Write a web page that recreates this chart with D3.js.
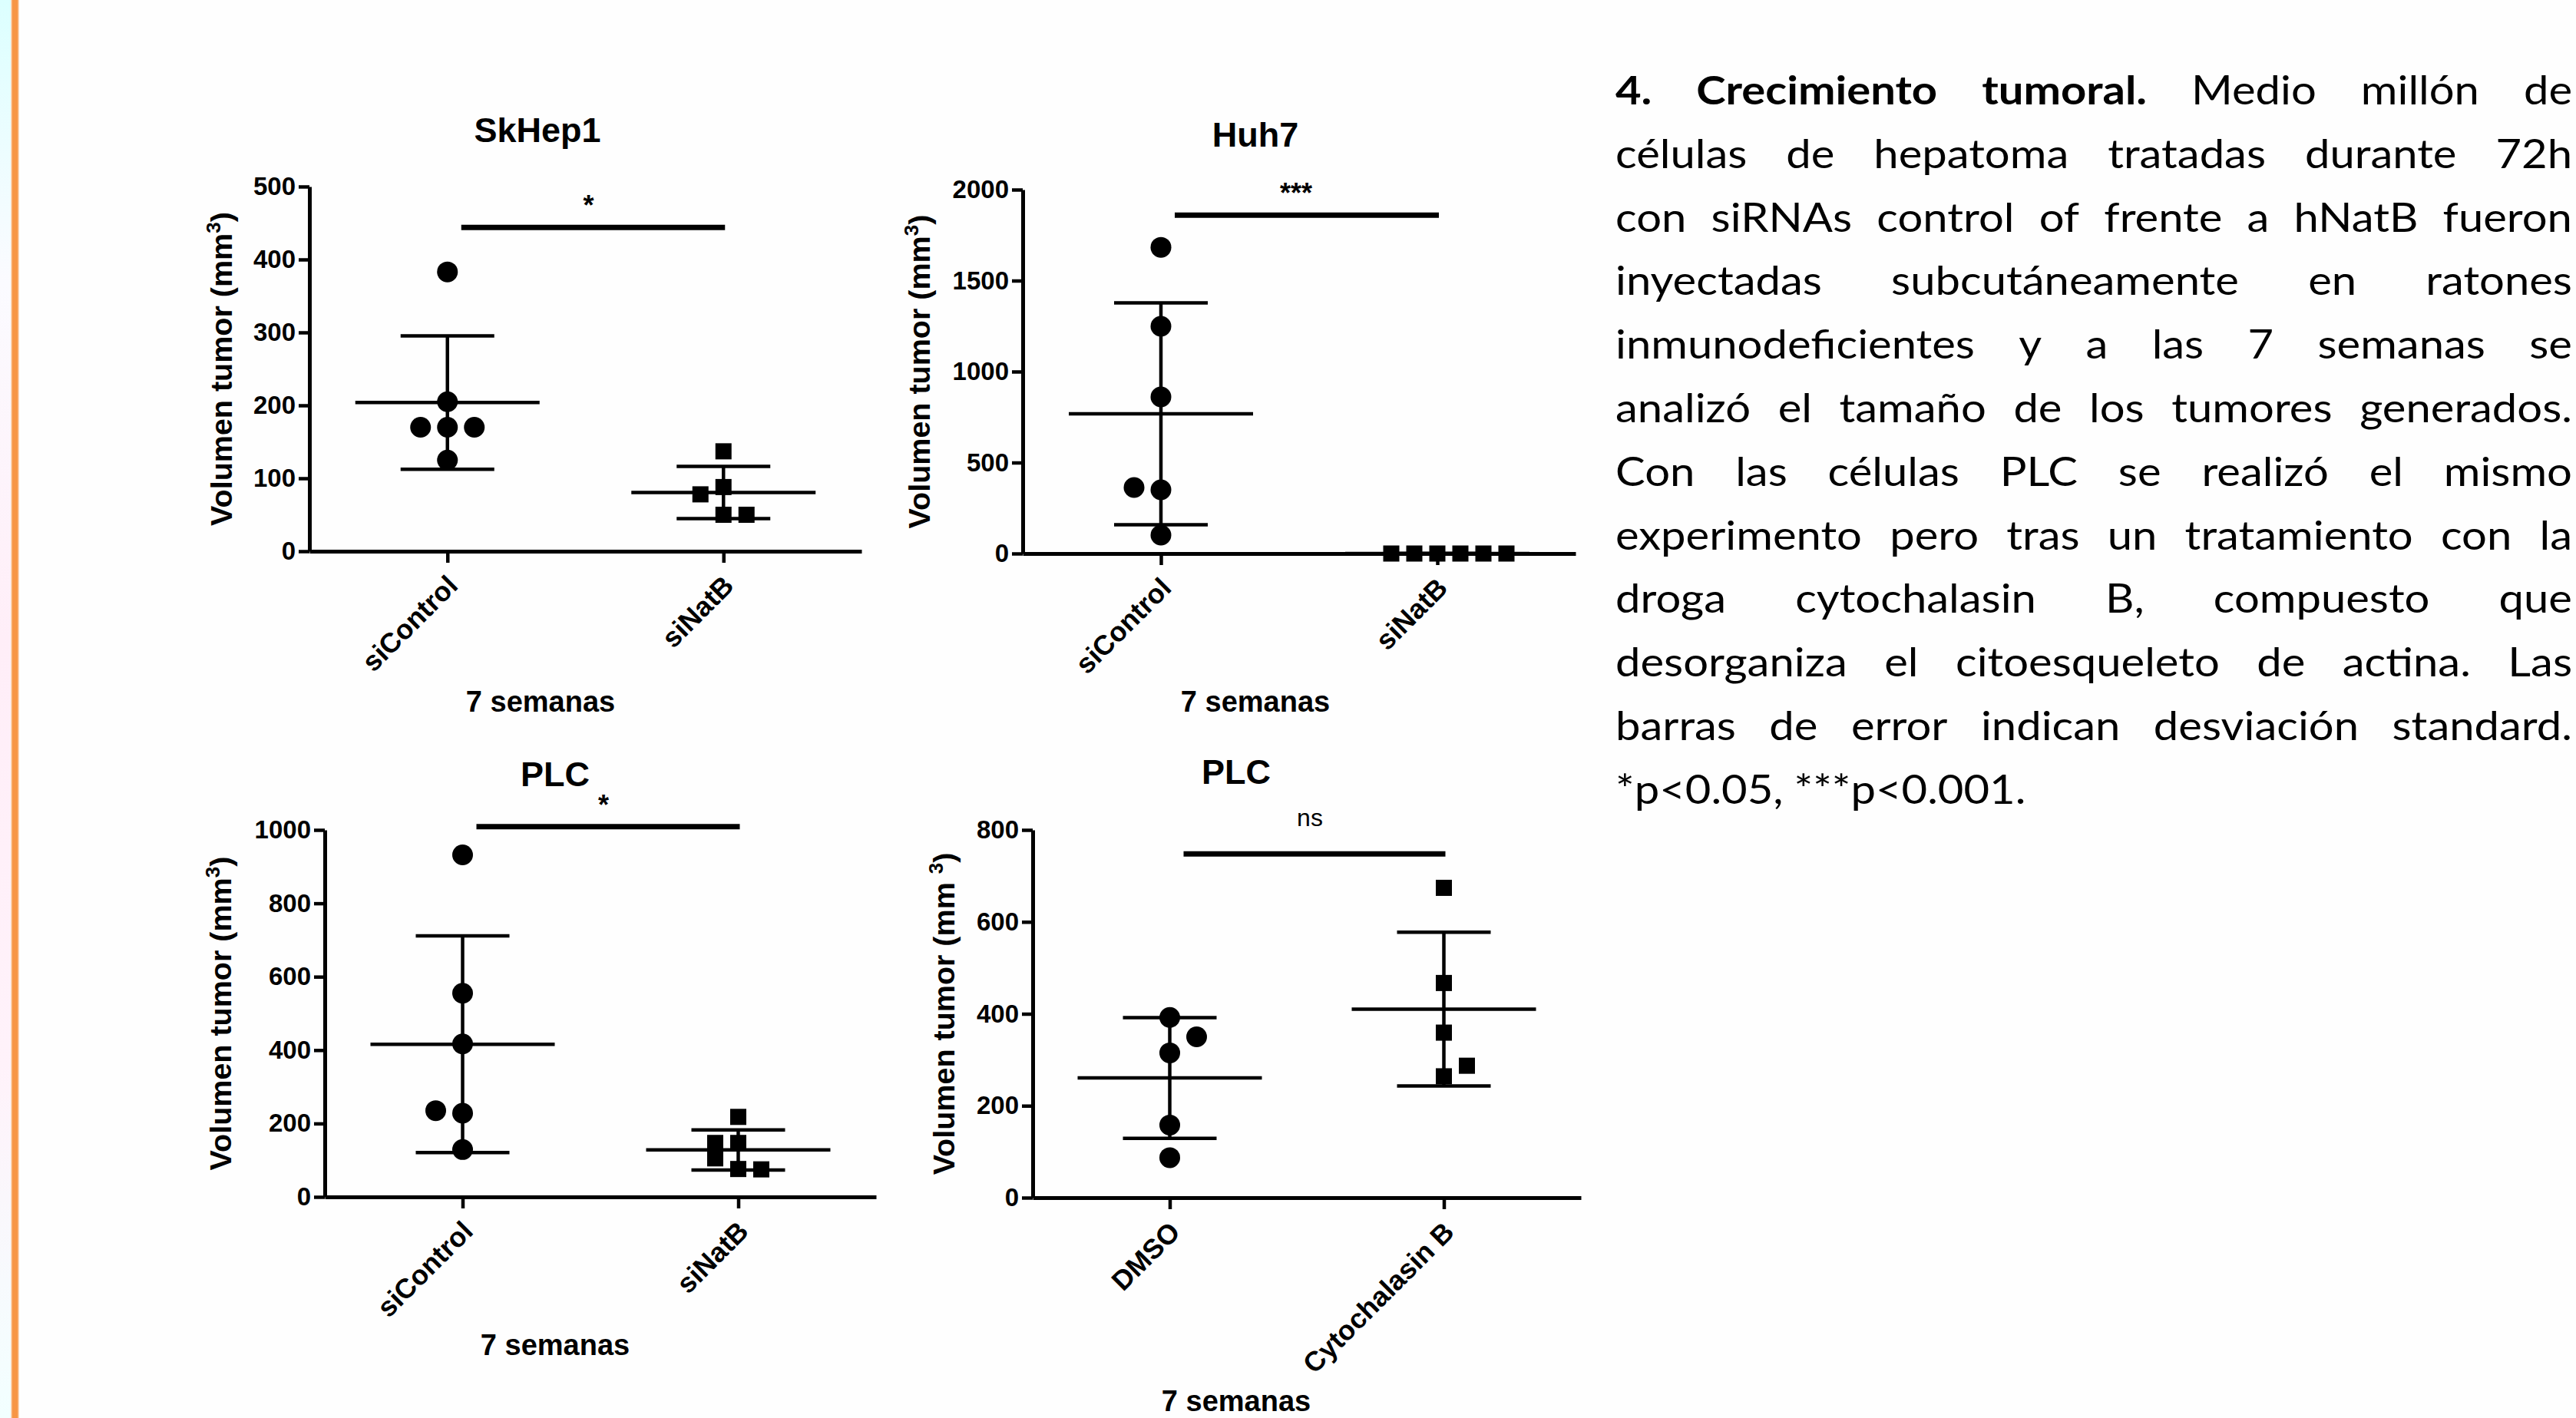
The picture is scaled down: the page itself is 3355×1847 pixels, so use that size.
<!DOCTYPE html>
<html>
<head>
<meta charset="utf-8">
<script src="https://cdn.jsdelivr.net/npm/d3@7"></script>
<style>
  body { margin: 0; background: #fff; }
  svg { display: block; }
</style>
</head>
<body>
<script>

// ---- data ----
var panelTitles = ["SkHep1", "Huh7", "PLC", "PLC"];
var groupNames = [["siControl", "siNatB"], ["siControl", "siNatB"], ["siControl", "siNatB"], ["DMSO", "Cytochalasin B"]];
var yMax = [500, 2000, 1000, 800];
var yTicks = [[0, 100, 200, 300, 400, 500], [0, 500, 1000, 1500, 2000], [0, 200, 400, 600, 800, 1000], [0, 200, 400, 600, 800]];
var sigText = ["*", "***", "*", "ns"];
var sigLevel = [444, 1860, 1009, 748];

var skhepControl = [383, 205, 170, 170, 170, 125];
var skhepNatB = [137, 88, 78, 50, 50];
var huhControl = [1683, 1249, 861, 363, 350, 101];
var huhNatB = [0, 0, 0, 0, 0, 0];
var plcControl = [932, 555, 417, 235, 228, 129];
var plcNatB = [218, 147, 147, 105, 76, 75];
var plcDmso = [392, 350, 315, 158, 87];
var plcCytoB = [674, 467, 359, 287, 264];

// side-by-side slot of each point (GraphPad spreads overlapping points)
var skhepControlSlot = [0, 0, -1, 0, 1, 0];
var skhepNatBSlot = [0, 0, -1, 0, 1];
var huhControlSlot = [0, 0, 0, -1, 0, 0];
var huhNatBSlot = [-2, -1, 0, 1, 2, 3];
var plcControlSlot = [0, 0, 0, -1, 0, 0];
var plcNatBSlot = [0, 0, -1, -1, 0, 1];
var plcDmsoSlot = [0, 1, 0, 0, 0];
var plcCytoBSlot = [0, 0, 0, 1, 0];

var panelValues = [[skhepControl, skhepNatB], [huhControl, huhNatB], [plcControl, plcNatB], [plcDmso, plcCytoB]];
var panelSlots = [[skhepControlSlot, skhepNatBSlot], [huhControlSlot, huhNatBSlot], [plcControlSlot, plcNatBSlot], [plcDmsoSlot, plcCytoBSlot]];

var paragraphLines = [
  "4. Crecimiento tumoral. Medio millón de",
  "células de hepatoma tratadas durante 72h",
  "con siRNAs control of frente a hNatB fueron",
  "inyectadas subcutáneamente en ratones",
  "inmunodeficientes y a las 7 semanas se",
  "analizó el tamaño de los tumores generados.",
  "Con las células PLC se realizó el mismo",
  "experimento pero tras un tratamiento con la",
  "droga cytochalasin B, compuesto que",
  "desorganiza el citoesqueleto de actina. Las",
  "barras de error indican desviación standard.",
  "*p<0.05, ***p<0.001."
];
var boldLead = 3; // "4. Crecimiento tumoral."

// ---- layout ----
var W = 3355, H = 1847;
var layout = [
  {x0: 403, x1: 1122, top: 243, bottom: 718, titleX: 700, titleY: 185, labelX: 704, labelY: 927, yLabelX: 302},
  {x0: 1332, x1: 2052, top: 247, bottom: 721, titleX: 1635, titleY: 191, labelX: 1635, labelY: 927, yLabelX: 1211},
  {x0: 423, x1: 1141, top: 1081, bottom: 1559, titleX: 723, titleY: 1024, labelX: 723, labelY: 1765, yLabelX: 301},
  {x0: 1345, x1: 2059, top: 1081, bottom: 1560, titleX: 1610, titleY: 1021, labelX: 1610, labelY: 1838, yLabelX: 1243}
];
var arial = "'Liberation Sans', Arial, Helvetica, sans-serif";

var svg = d3.select("body").append("svg")
    .attr("width", W)
    .attr("height", H);

// slide background: pastel strip + orange rule on the left
var defs = svg.append("defs");
var grad = defs.append("linearGradient").attr("id", "strip").attr("x1", 0).attr("y1", 0).attr("x2", 0).attr("y2", 1);
grad.append("stop").attr("offset", "0%").attr("stop-color", "#dcffff");
grad.append("stop").attr("offset", "20%").attr("stop-color", "#fbfbff");
grad.append("stop").attr("offset", "45%").attr("stop-color", "#ffeef8");
grad.append("stop").attr("offset", "75%").attr("stop-color", "#fff2fa");
grad.append("stop").attr("offset", "100%").attr("stop-color", "#f2ffff");

svg.append("rect").attr("width", W).attr("height", H).attr("fill", "#fefefe");
svg.append("rect").attr("width", 15).attr("height", H).attr("fill", "url(#strip)");
svg.append("rect").attr("x", 14).attr("width", 11).attr("height", H).attr("fill", "#fbd9bd");
svg.append("rect").attr("x", 15.5).attr("width", 8).attr("height", H).attr("fill", "#f79646");

var circleR = 13.5, squareS = 21;
var slotStep = [35, 30];

panelTitles.forEach(function(title, p) {
  var L = layout[p];
  var g = svg.append("g");

  var x = d3.scalePoint().domain(groupNames[p]).range([L.x0, L.x1]).padding(0.5);
  var y = d3.scaleLinear().domain([0, yMax[p]]).range([L.bottom, L.top]);

  // y axis
  var yAxis = g.append("g")
      .attr("transform", "translate(" + L.x0 + ",0)")
      .call(d3.axisLeft(y).tickValues(yTicks[p]).tickFormat(d3.format("d"))
        .tickSize(14).tickSizeOuter(0).tickPadding(4));
  // x axis
  var xAxis = g.append("g")
      .attr("transform", "translate(0," + L.bottom + ")")
      .call(d3.axisBottom(x).tickSize(15).tickSizeOuter(0));

  [yAxis, xAxis].forEach(function(a) {
    a.attr("font-family", arial).attr("font-weight", "bold");
    a.selectAll(".domain").attr("stroke", "#000").attr("stroke-width", 5);
    a.selectAll(".tick line").attr("stroke", "#000").attr("stroke-width", 4.5);
    a.selectAll(".tick text").attr("fill", "#000");
  });
  yAxis.attr("font-size", 33);
  xAxis.attr("font-size", 36);
  xAxis.selectAll(".tick text")
      .attr("x", 0).attr("y", 0).attr("dy", 0)
      .attr("transform", "translate(15,47) rotate(-45)")
      .attr("text-anchor", "end");

  // titles
  g.append("text")
      .attr("x", L.titleX).attr("y", L.titleY)
      .attr("text-anchor", "middle")
      .attr("font-family", arial).attr("font-weight", "bold").attr("font-size", 45)
      .text(title);
  g.append("text")
      .attr("x", L.labelX).attr("y", L.labelY)
      .attr("text-anchor", "middle")
      .attr("font-family", arial).attr("font-weight", "bold").attr("font-size", 38)
      .text("7 semanas");
  var yl = g.append("text")
      .attr("transform", "translate(" + L.yLabelX + "," + ((L.top + L.bottom) / 2) + ") rotate(-90)")
      .attr("text-anchor", "middle")
      .attr("font-family", arial).attr("font-weight", "bold").attr("font-size", 39.5);
  yl.append("tspan").text(p === 3 ? "Volumen tumor (mm " : "Volumen tumor (mm");
  yl.append("tspan").attr("dy", -15).attr("font-size", 26).text("3");
  yl.append("tspan").attr("dy", 15).text(")");

  // mean +/- SD and points
  groupNames[p].forEach(function(name, k) {
    var vals = panelValues[p][k];
    var slots = panelSlots[p][k];
    var cx = x(name);
    var m = d3.mean(vals), sd = d3.deviation(vals) || 0;
    var eg = g.append("g").attr("stroke", "#000").attr("stroke-width", 4.5);
    eg.append("line").attr("x1", cx - 120).attr("x2", cx + 120).attr("y1", y(m)).attr("y2", y(m));
    eg.append("line").attr("x1", cx).attr("x2", cx).attr("y1", y(m - sd)).attr("y2", y(m + sd));
    [m - sd, m + sd].forEach(function(v) {
      eg.append("line").attr("x1", cx - 61).attr("x2", cx + 61).attr("y1", y(v)).attr("y2", y(v));
    });

    var pts = vals.map(function(v, i) { return {v: v, s: slots[i]}; });
    if (k === 0) {
      g.selectAll(null).data(pts).enter().append("circle")
          .attr("cx", function(d) { return cx + d.s * slotStep[0]; })
          .attr("cy", function(d) { return y(d.v); })
          .attr("r", circleR)
          .attr("fill", "#000");
    } else {
      g.selectAll(null).data(pts).enter().append("rect")
          .attr("x", function(d) { return cx + d.s * slotStep[1] - squareS / 2; })
          .attr("y", function(d) { return y(d.v) - squareS / 2; })
          .attr("width", squareS).attr("height", squareS)
          .attr("fill", "#000");
    }
  });

  // significance bar
  var bx1 = x(groupNames[p][0]) + 18, bx2 = x(groupNames[p][1]) + 2;
  g.append("line")
      .attr("x1", bx1).attr("x2", bx2)
      .attr("y1", y(sigLevel[p])).attr("y2", y(sigLevel[p]))
      .attr("stroke", "#000").attr("stroke-width", 7);
  var isNs = sigText[p] === "ns";
  g.append("text")
      .attr("x", (bx1 + bx2) / 2 - (p === 1 ? 14 : 6))
      .attr("y", y(sigLevel[p]) - (isNs ? 36 : 16))
      .attr("text-anchor", "middle")
      .attr("font-family", arial)
      .attr("font-weight", isNs ? "normal" : "bold")
      .attr("font-size", isNs ? 32 : 36)
      .text(sigText[p]);
});

// ---- justified paragraph on the right ----
// the slide's Calibri is wider than Lato, so the words are stretched sideways a little
var textLeft = 2104, textRight = 3350, firstBase = 136, lineStep = 82.8, stretch = 1.115;
var tg = svg.append("g")
    .attr("font-family", "Lato, 'Open Sans', 'Noto Sans', sans-serif")
    .attr("font-size", 52)
    .attr("fill", "#000");

paragraphLines.forEach(function(line, i) {
  var words = line.split(" ");
  var by = firstBase + i * lineStep;
  var nodes = words.map(function(w, j) {
    return tg.append("text")
        .attr("font-weight", (i === 0 && j < boldLead) ? "bold" : "normal")
        .text(w);
  });
  var widths = nodes.map(function(n) { return n.node().getComputedTextLength() * stretch; });
  var last = i === paragraphLines.length - 1;
  var gap = last ? 14 : (textRight - textLeft - d3.sum(widths)) / (words.length - 1);
  var cur = textLeft;
  nodes.forEach(function(n, j) {
    n.attr("transform", "translate(" + cur + "," + by + ") scale(" + stretch + ",1)");
    cur += widths[j] + gap;
  });
});

</script>
</body>
</html>
